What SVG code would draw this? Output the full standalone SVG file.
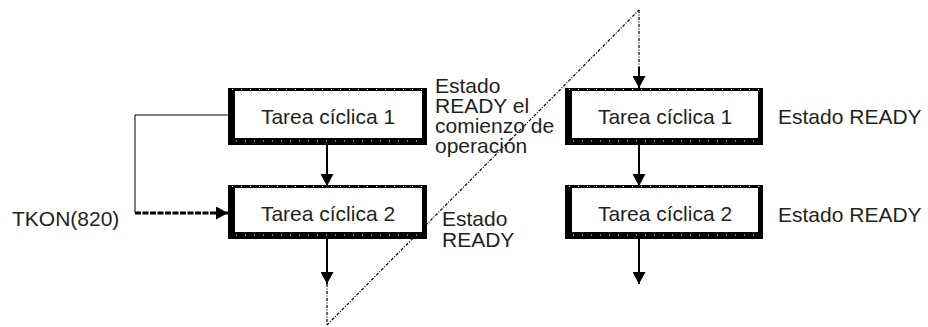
<svg xmlns="http://www.w3.org/2000/svg" width="928" height="327" viewBox="0 0 928 327">
<style>
  .outer { fill: #000; }
  .inner { fill: #fff; }
  .tick { stroke: #fff; stroke-width: 1.2; stroke-dasharray: 1 8; fill: none; }
  .label { font-family: "Liberation Sans", Arial, sans-serif; font-size: 21px; fill: #231f20; }
  .mid { text-anchor: middle; }
  .solid { stroke: #000; stroke-width: 2; fill: none; }
  .thin { stroke: #000; stroke-width: 1; fill: none; }
  .dashthick { stroke: #000; stroke-width: 3; stroke-dasharray: 6 1.5; fill: none; }
  .dotted { stroke: #000; stroke-width: 1.2; stroke-dasharray: 3 1.5 1 1.5; fill: none; }
</style>
<defs>
  <marker id="ah" markerUnits="userSpaceOnUse" markerWidth="13" markerHeight="13" refX="12" refY="6.5" orient="auto">
    <path d="M0,0 L12,6.5 L0,13 z" fill="#000"/>
  </marker>
</defs>
<rect width="928" height="327" fill="#fff"/>

<g id="connectors">
  <polyline class="thin" points="228,115 135,115 135,213"/>
  <line class="dashthick" x1="135" y1="213" x2="228" y2="213" marker-end="url(#ah)"/>
  <line class="solid" x1="327" y1="145" x2="327" y2="186" marker-end="url(#ah)"/>
  <line class="solid" x1="327" y1="239" x2="327" y2="284" marker-end="url(#ah)"/>
  <line class="dotted" x1="327" y1="284" x2="327" y2="325"/>
  <line class="dotted" x1="327" y1="325" x2="639" y2="10"/>
  <line class="dotted" x1="639" y1="10" x2="639" y2="67"/>
  <line class="solid" x1="639" y1="67" x2="639" y2="88" marker-end="url(#ah)"/>
  <line class="solid" x1="639" y1="145" x2="639" y2="186" marker-end="url(#ah)"/>
  <line class="solid" x1="639" y1="239" x2="639" y2="284" marker-end="url(#ah)"/>
</g>

<g id="left-task1">
  <rect class="outer" x="228" y="88" width="199" height="57"/>
  <rect class="inner" x="235" y="91" width="187" height="47"/>
  <line class="tick" x1="232" y1="89.5" x2="425" y2="89.5"/>
  <line class="tick" x1="236" y1="141" x2="425" y2="141"/>
  <text class="label mid" x="328" y="124">Tarea cíclica 1</text>
</g>

<g id="left-task2">
  <rect class="outer" x="228" y="185" width="199" height="54"/>
  <rect class="inner" x="235" y="188" width="187" height="44"/>
  <line class="tick" x1="232" y1="186.5" x2="425" y2="186.5"/>
  <line class="tick" x1="236" y1="235" x2="425" y2="235"/>
  <text class="label mid" x="328" y="221">Tarea cíclica 2</text>
</g>

<g id="right-task1">
  <rect class="outer" x="565" y="88" width="198" height="57"/>
  <rect class="inner" x="572" y="91" width="186" height="47"/>
  <line class="tick" x1="569" y1="89.5" x2="761" y2="89.5"/>
  <line class="tick" x1="573" y1="141" x2="761" y2="141"/>
  <text class="label mid" x="665" y="124">Tarea cíclica 1</text>
</g>

<g id="right-task2">
  <rect class="outer" x="565" y="185" width="198" height="54"/>
  <rect class="inner" x="572" y="188" width="186" height="44"/>
  <line class="tick" x1="569" y1="186.5" x2="761" y2="186.5"/>
  <line class="tick" x1="573" y1="235" x2="761" y2="235"/>
  <text class="label mid" x="665" y="221">Tarea cíclica 2</text>
</g>

<g id="labels">
  <text class="label" x="12" y="226">TKON(820)</text>
  <text class="label" x="435" y="93"><tspan x="435" y="93">Estado</tspan><tspan x="435" y="113">READY el</tspan><tspan x="435" y="133">comienzo de</tspan><tspan x="435" y="153">operación</tspan></text>
  <text class="label" x="442" y="226"><tspan x="442" y="226">Estado</tspan><tspan x="442" y="247">READY</tspan></text>
  <text class="label" x="778" y="124">Estado READY</text>
  <text class="label" x="778" y="222">Estado READY</text>
</g>
</svg>
